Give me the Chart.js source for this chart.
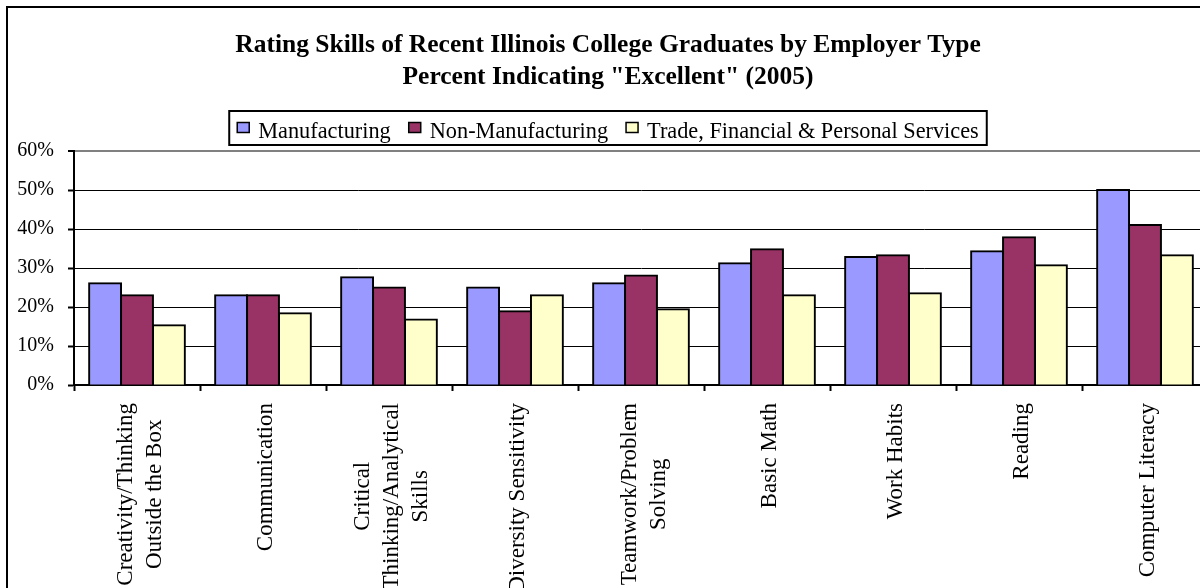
<!DOCTYPE html>
<html lang="en">
  <head>
    <meta charset="UTF-8" />
    <script src="https://cdn.jsdelivr.net/npm/chart.js@4.4.0/dist/chart.umd.min.js"></script>
    <title>Rating Skills of Recent Illinois College Graduates</title>
    <style>
      html,
      body {
        margin: 0;
        padding: 0;
        background: #fff;
        overflow: hidden;
      }
      #wrap {
        position: absolute;
        left: 0;
        top: 0;
        width: 1210px;
        height: 610px;
      }
    </style>
  </head>
  <body>
    <div id="wrap">
      <canvas id="myChart"></canvas>
    </div>
    <script>
      // skills on the x axis (arrays are multi-line labels)
      const categories = [
        ["Creativity/Thinking", "Outside the Box"],
        "Communication",
        ["Critical", "Thinking/Analytical", "Skills"],
        "Diversity Sensitivity",
        ["Teamwork/Problem", "Solving"],
        "Basic Math",
        "Work Habits",
        "Reading",
        "Computer Literacy",
      ];

      const seriesNames = [
        "Manufacturing",
        "Non-Manufacturing",
        "Trade, Financial & Personal Services",
      ];

      // percent rating "Excellent"
      const manufacturing = [26.1, 23.0, 27.6, 25.0, 26.1, 31.2, 32.8, 34.3, 50.0];
      const nonManufacturing = [23.0, 23.0, 25.0, 18.9, 28.1, 34.8, 33.3, 37.9, 41.0];
      const tradeServices = [15.3, 18.4, 16.8, 23.0, 19.4, 23.0, 23.5, 30.7, 33.3];

      const yMin = 0;
      const yMax = 60;
      const yStep = 10;

      const titleLines = [
        "Rating Skills of Recent Illinois College Graduates by Employer Type",
        'Percent Indicating "Excellent" (2005)',
      ];

      const colors = ["#9999FF", "#993366", "#FFFFCC"];
      const serif = '"Liberation Serif", "Times New Roman", serif';

      Chart.defaults.font.family = serif;
      Chart.defaults.color = "#000";

      // white page + outer frame
      const framePlugin = {
        id: "frame",
        beforeDraw(chart) {
          const ctx = chart.ctx;
          ctx.save();
          ctx.fillStyle = "#fff";
          ctx.fillRect(0, 0, chart.width, chart.height);
          ctx.strokeStyle = "#000";
          ctx.lineWidth = 2;
          ctx.strokeRect(7, 7, 1202, 700);
          ctx.restore();
        },
      };

      // title and boxed legend above the plot
      const headerPlugin = {
        id: "header",
        afterDraw(chart) {
          const ctx = chart.ctx;
          const cx = 608;
          ctx.save();
          ctx.fillStyle = "#000";
          ctx.textAlign = "center";
          ctx.textBaseline = "alphabetic";
          ctx.font = "bold 25.5px " + serif;
          ctx.fillText(titleLines[0], cx, 52);
          ctx.fillText(titleLines[1], cx, 83.5);

          // legend
          ctx.font = "22.3px " + serif;
          const sw = 12, sh = 10, gapText = 9, gapItem = 18, pad = 8;
          const widths = seriesNames.map((n) => ctx.measureText(n).width);
          let total = 0;
          widths.forEach((w, i) => {
            total += sw + gapText + w + (i < widths.length - 1 ? gapItem : 0);
          });
          const boxW = total + pad * 2;
          const boxL = cx - boxW / 2;
          ctx.lineWidth = 2;
          ctx.strokeStyle = "#000";
          ctx.strokeRect(boxL, 111, boxW, 34);

          let x = boxL + pad;
          ctx.textAlign = "left";
          seriesNames.forEach((n, i) => {
            ctx.fillStyle = colors[i];
            ctx.fillRect(x, 122.5, sw, sh);
            ctx.lineWidth = 1.5;
            ctx.strokeRect(x, 122.5, sw, sh);
            ctx.fillStyle = "#000";
            ctx.fillText(n, x + sw + gapText, 137.5);
            x += sw + gapText + widths[i] + gapItem;
          });
          ctx.restore();
        },
      };

      // vertical category labels, lines centred on each other
      const xLabelPlugin = {
        id: "xLabels",
        afterDraw(chart) {
          const ctx = chart.ctx;
          const xs = chart.scales.x;
          ctx.save();
          ctx.font = "23px " + serif;
          ctx.fillStyle = "#000";
          ctx.textAlign = "center";
          ctx.textBaseline = "alphabetic";
          categories.forEach((lab, i) => {
            const lines = Array.isArray(lab) ? lab : [lab];
            const w = Math.max(...lines.map((l) => ctx.measureText(l).width));
            ctx.save();
            ctx.translate(xs.getPixelForValue(i), xs.top + 18);
            ctx.rotate(-Math.PI / 2);
            lines.forEach((l, j) => {
              ctx.fillText(l, -w / 2, 9 + (j - (lines.length - 1) / 2) * 29);
            });
            ctx.restore();
          });
          ctx.restore();
        },
      };

      // bars touch inside a group, gap between groups
      const barStyle = {
        borderColor: "#000",
        borderWidth: 2,
        inflateAmount: 1,
        barPercentage: 1.0,
        categoryPercentage: 0.76,
      };

      const config = {
        type: "bar",
        data: {
          labels: categories,
          datasets: [
            { label: seriesNames[0], data: manufacturing, backgroundColor: colors[0], ...barStyle },
            { label: seriesNames[1], data: nonManufacturing, backgroundColor: colors[1], ...barStyle },
            { label: seriesNames[2], data: tradeServices, backgroundColor: colors[2], ...barStyle },
          ],
        },
        options: {
          responsive: true,
          maintainAspectRatio: false,
          animation: false,
          devicePixelRatio: 1,
          layout: { padding: { top: 151, right: 2, left: 0, bottom: 0 } },
          plugins: {
            legend: { display: false },
            title: { display: false },
            tooltip: { enabled: false },
          },
          scales: {
            x: {
              offset: true,
              grid: {
                offset: true,
                drawOnChartArea: false,
                drawTicks: true,
                tickLength: 6,
                tickColor: "#000",
                tickWidth: 2,
              },
              border: { color: "#000", width: 2 },
              ticks: { display: false },
              afterFit(scale) {
                scale.height = 225;
              },
            },
            y: {
              min: yMin,
              max: yMax,
              ticks: {
                stepSize: yStep,
                padding: 14,
                font: { size: 20 },
                color: "#000",
                callback: (v) => v + "%",
              },
              grid: {
                color: (c) => (c.tick && c.tick.value === yMax ? "#808080" : "#000"),
                lineWidth: (c) => (c.tick && c.tick.value === yMax ? 2 : 1),
                tickLength: 6,
                tickColor: "#000",
                tickWidth: 2,
              },
              border: { color: "#000", width: 2 },
              afterFit(scale) {
                scale.width = 74;
              },
            },
          },
        },
        plugins: [framePlugin, headerPlugin, xLabelPlugin],
      };

      new Chart(document.getElementById("myChart"), config);
    </script>
  </body>
</html>
